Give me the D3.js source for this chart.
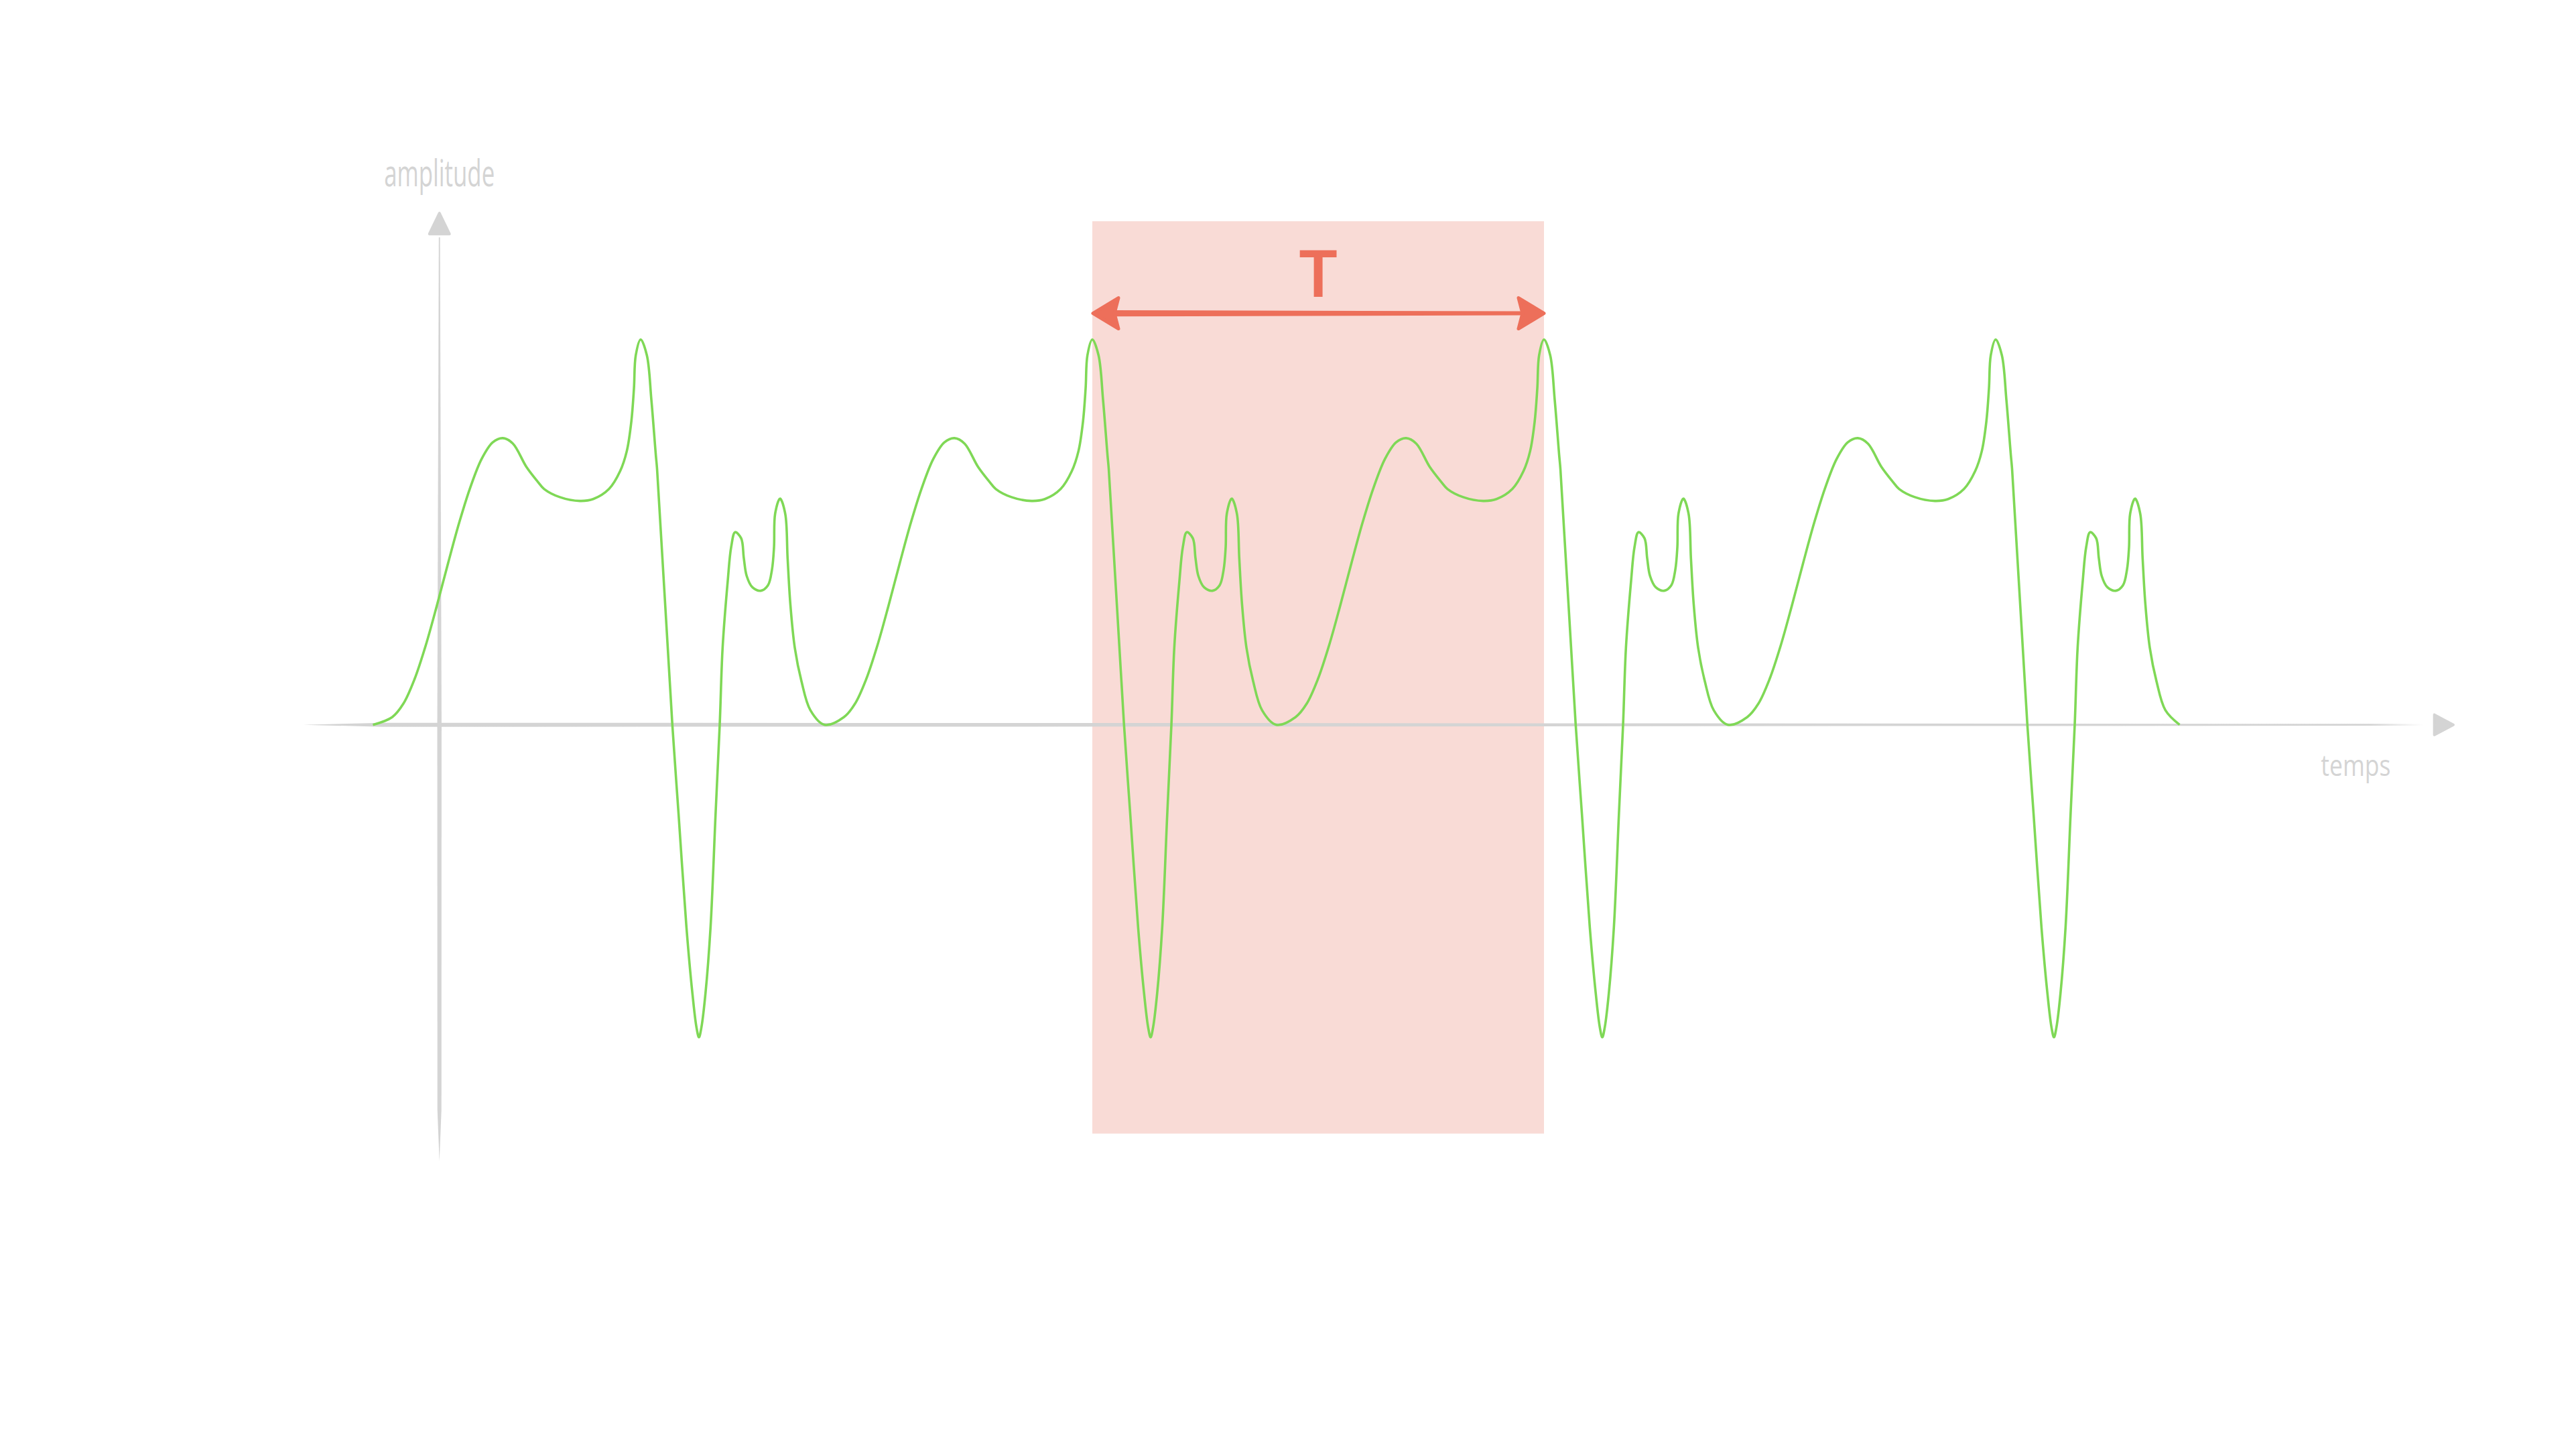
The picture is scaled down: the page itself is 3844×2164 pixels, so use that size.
<!DOCTYPE html>
<html>
<head>
<meta charset="utf-8">
<script src="https://cdn.jsdelivr.net/npm/d3@7"></script>
<style>
  html, body { margin: 0; padding: 0; background: #ffffff; }
  svg { display: block; }
</style>
</head>
<body>
<svg id="chart" width="3844" height="2164"></svg>
<script>
// ---- data: one period of the periodic signal (time units, amplitude) ----
const periodPhase = [
  0, 0.427, 0.675, 0.923, 1.169, 1.417, 1.665, 1.911, 2.159, 2.407, 2.653, 2.875,
  3.098, 3.395, 3.642, 3.791, 4.137, 4.582, 4.878, 5.226, 5.472, 5.620, 5.720,
  5.779, 5.819, 5.927, 6.065, 6.165, 6.264, 6.291, 6.629, 6.769, 6.941, 7.074,
  7.163, 7.218, 7.273, 7.362, 7.475, 7.585, 7.678, 7.742, 7.856, 7.931, 8.019,
  8.153, 8.212, 8.276, 8.401, 8.588, 8.746, 8.835, 8.880, 8.905, 9.013, 9.128,
  9.181, 9.240, 9.340, 9.488, 9.685, 10
];
const periodAmplitude = [
  0, 0.020, 0.055, 0.119, 0.206, 0.310, 0.420, 0.525, 0.617, 0.690, 0.733, 0.744,
  0.730, 0.670, 0.632, 0.612, 0.591, 0.581, 0.586, 0.612, 0.658, 0.710, 0.786,
  0.873, 0.959, 1.000, 0.959, 0.843, 0.699, 0.664, 0, -0.235, -0.525, -0.698,
  -0.785, -0.811, -0.785, -0.698, -0.525, -0.235, 0, 0.200, 0.374, 0.461, 0.500,
  0.484, 0.432, 0.386, 0.357, 0.348, 0.362, 0.403, 0.461, 0.548, 0.587, 0.548,
  0.432, 0.316, 0.200, 0.113, 0.038, 0
];
const periodStarts = [0, 10, 20, 30];          // four repetitions of the period
const highlightedPeriod = [15.927, 25.927];    // one period T, peak to peak
const axisLabels = ["amplitude", "temps"];
const periodLabel = "T";

// ---- colours ----
const green = "#7fd856";
const gray = "#d4d4d4";
const red = "#ed6f5a";
const pink = "#f9dbd6";

const svg = d3.select("#chart");
svg.append("rect").attr("width", 3844).attr("height", 2164).attr("fill", "#ffffff");

const x = d3.scaleLinear().domain([0, 40]).range([556.5, 3252.5]);
const y = d3.scaleLinear().domain([-1, 1]).range([1656.7, 506.7]);

// build the signal from the period values
const signal = [];
periodStarts.forEach((s, k) => {
  periodPhase.forEach((p, i) => {
    if (k > 0 && i === 0) return;
    signal.push([s + p, periodAmplitude[i]]);
  });
});

const defs = svg.append("defs");
const fade = defs.append("linearGradient").attr("id", "fadeX")
  .attr("gradientUnits", "userSpaceOnUse")
  .attr("x1", x(-1.6)).attr("x2", x(45.4)).attr("y1", 0).attr("y2", 0);
fade.append("stop").attr("offset", 0).attr("stop-color", gray).attr("stop-opacity", 1);
fade.append("stop").attr("offset", 0.975).attr("stop-color", gray).attr("stop-opacity", 1);
fade.append("stop").attr("offset", 1).attr("stop-color", gray).attr("stop-opacity", 0);

// ---- highlighted period band ----
svg.append("rect")
  .attr("x", x(highlightedPeriod[0]))
  .attr("y", y(1.307))
  .attr("width", x(highlightedPeriod[1]) - x(highlightedPeriod[0]))
  .attr("height", y(-1.061) - y(1.307))
  .attr("fill", pink);

// ---- axes (brush-like tapered strokes) ----
const poly = d3.line().curve(d3.curveLinearClosed);
const y0 = y(0);
svg.append("path")
  .attr("d", poly([
    [x(-1.536), y0], [x(0.2), y0 - 3], [x(20), y0 - 2.6], [x(45.38), y0 - 1.3],
    [x(45.38), y0 + 1.3], [x(20), y0 + 2.6], [x(0.2), y0 + 3]
  ]))
  .attr("fill", "url(#fadeX)");

const tAxis = 1.472;
const xa = x(tAxis);
svg.append("path")
  .attr("d", poly([
    [xa - 0.9, y(1.265)], [xa - 3.2, y(0)], [xa - 3, y(-1.0)], [xa, y(-1.133)],
    [xa + 3, y(-1.0)], [xa + 3.2, y(0)], [xa + 0.9, y(1.265)]
  ]))
  .attr("fill", gray);

// axis arrowheads
svg.append("path")
  .attr("d", poly([[xa, y(1.328)], [xa - 15, y(1.274)], [xa + 15, y(1.274)]]))
  .attr("fill", gray).attr("stroke", gray).attr("stroke-width", 4).attr("stroke-linejoin", "round");
svg.append("path")
  .attr("d", poly([[x(46.06), y0], [x(45.64), y0 - 15], [x(45.64), y0 + 15]]))
  .attr("fill", gray).attr("stroke", gray).attr("stroke-width", 4).attr("stroke-linejoin", "round");

// axis labels
svg.append("text")
  .attr("x", xa).attr("y", y(1.397))
  .attr("text-anchor", "middle")
  .attr("font-family", "Open Sans, sans-serif")
  .attr("font-size", 54)
  .attr("textLength", 165).attr("lengthAdjust", "spacingAndGlyphs")
  .attr("fill", gray)
  .text(axisLabels[0]);
svg.append("text")
  .attr("x", x(43.9)).attr("y", y(-0.133))
  .attr("text-anchor", "middle")
  .attr("font-family", "Open Sans, sans-serif")
  .attr("font-size", 44)
  .attr("textLength", 104).attr("lengthAdjust", "spacingAndGlyphs")
  .attr("fill", gray)
  .text(axisLabels[1]);

// ---- signal ----
svg.append("path")
  .datum(signal)
  .attr("d", d3.line().x(d => x(d[0])).y(d => y(d[1])).curve(d3.curveCatmullRom.alpha(0.5)))
  .attr("fill", "none")
  .attr("stroke", green)
  .attr("stroke-width", 3.6)
  .attr("stroke-linejoin", "round");

// ---- period arrow ----
const ya = y(1.068);
const xL = x(highlightedPeriod[0]) + 1;
const xR = x(highlightedPeriod[1]);
svg.append("path")
  .attr("d", poly([[xL + 30, ya - 4.6], [xR - 30, ya - 3], [xR - 30, ya + 3], [xL + 30, ya + 4.6]]))
  .attr("fill", red);
svg.append("path")
  .attr("d", poly([[xL, ya], [xL + 38, ya - 23], [xL + 32, ya], [xL + 38, ya + 23]]))
  .attr("fill", red).attr("stroke", red).attr("stroke-width", 5).attr("stroke-linejoin", "round");
svg.append("path")
  .attr("d", poly([[xR, ya], [xR - 38, ya - 23], [xR - 32, ya], [xR - 38, ya + 23]]))
  .attr("fill", red).attr("stroke", red).attr("stroke-width", 5).attr("stroke-linejoin", "round");

svg.append("text")
  .attr("x", x((highlightedPeriod[0] + highlightedPeriod[1]) / 2))
  .attr("y", y(1.111))
  .attr("text-anchor", "middle")
  .attr("font-family", "Lato, sans-serif")
  .attr("font-weight", 700)
  .attr("font-size", 96)
  .attr("fill", red)
  .text(periodLabel);
</script>
</body>
</html>
